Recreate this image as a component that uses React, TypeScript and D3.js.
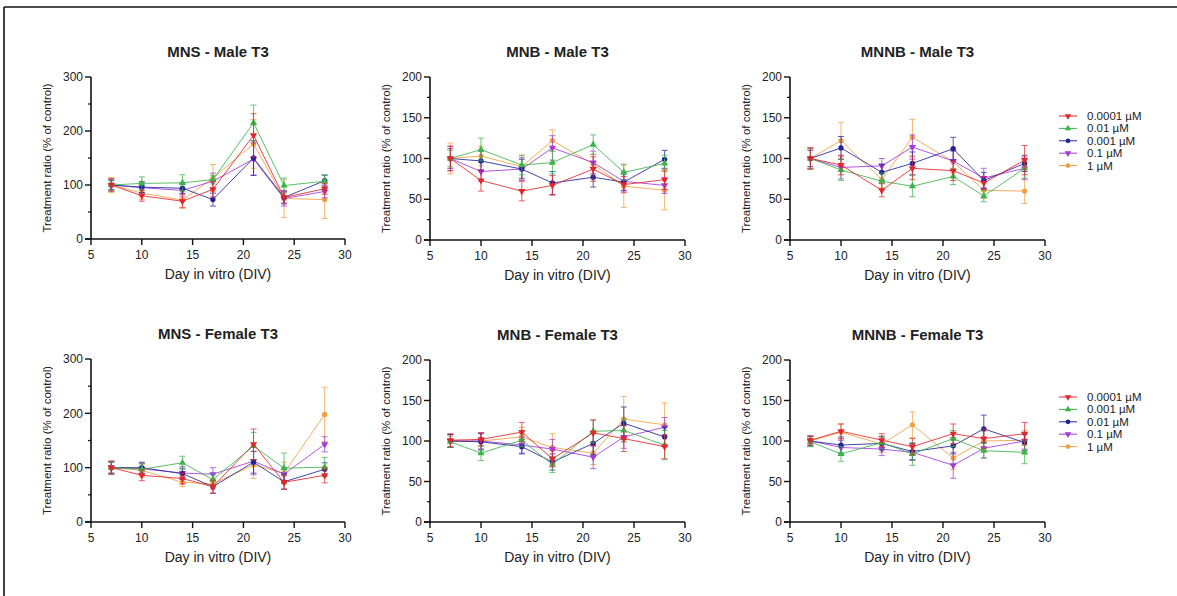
import React from "react";
import * as d3 from "d3";

const days = [7, 10, 14, 17, 21, 24, 28];
const xTicks = [5, 10, 15, 20, 25, 30];

const maleLabels = ["0.0001 µM", "0.01 µM", "0.001 µM", "0.1 µM", "1 µM"];
const femaleLabels = ["0.0001 µM", "0.001 µM", "0.01 µM", "0.1 µM", "1 µM"];

// red, green, blue, purple, orange
const colors = ["#e3262b", "#3bb54a", "#24249a", "#a23ad8", "#f0a040"];
const shapes = ["down", "up", "circle", "down", "circle"];

// means per series (rows) by day (cols)
const mnsMaleMean = [
  [100, 80, 70, 92, 192, 77, 93],
  [100, 103, 104, 110, 215, 99, 107],
  [100, 96, 94, 73, 150, 77, 108],
  [100, 95, 90, 107, 148, 75, 88],
  [100, 85, 72, 113, 176, 75, 73]
];
const mnsMaleErr = [
  [12, 10, 12, 14, 40, 10, 10],
  [10, 12, 15, 8, 33, 14, 12],
  [8, 10, 10, 12, 32, 12, 10],
  [10, 10, 12, 15, 30, 14, 12],
  [14, 12, 15, 25, 45, 35, 35]
];

const mnbMaleMean = [
  [100, 73, 60, 67, 87, 68, 74],
  [100, 111, 92, 95, 117, 83, 94],
  [100, 97, 87, 70, 77, 71, 99],
  [100, 84, 87, 113, 95, 72, 67],
  [100, 103, 90, 122, 93, 66, 61]
];
const mnbMaleErr = [
  [15, 13, 12, 12, 15, 10, 12],
  [10, 14, 12, 14, 12, 10, 10],
  [12, 12, 12, 14, 12, 10, 11],
  [15, 12, 14, 15, 14, 12, 10],
  [19, 12, 14, 13, 12, 26, 24]
];

const mnnbMaleMean = [
  [100, 92, 61, 88, 85, 70, 98],
  [100, 86, 72, 66, 78, 54, 88],
  [100, 113, 83, 94, 112, 73, 94],
  [100, 89, 91, 114, 97, 76, 88],
  [100, 122, 74, 126, 96, 61, 60]
];
const mnnbMaleErr = [
  [13, 12, 8, 14, 12, 8, 18],
  [13, 13, 10, 13, 10, 7, 12],
  [10, 14, 10, 14, 14, 10, 10],
  [12, 14, 9, 15, 12, 12, 14],
  [13, 22, 10, 22, 14, 10, 15]
];

const mnsFemaleMean = [
  [100, 86, 80, 65, 143, 73, 86],
  [100, 97, 109, 78, 140, 99, 101],
  [100, 100, 89, 65, 110, 74, 97],
  [100, 98, 90, 88, 112, 88, 143],
  [100, 95, 73, 70, 105, 90, 198]
];
const mnsFemaleErr = [
  [12, 10, 10, 12, 28, 12, 14],
  [10, 10, 12, 10, 25, 28, 18],
  [10, 10, 10, 12, 20, 14, 12],
  [12, 10, 12, 12, 25, 12, 14],
  [12, 12, 8, 10, 25, 20, 50]
];

const mnbFemaleMean = [
  [101, 102, 111, 78, 110, 103, 93],
  [99, 85, 101, 71, 112, 113, 95],
  [100, 99, 93, 74, 97, 122, 105],
  [100, 100, 95, 90, 80, 105, 117],
  [100, 100, 105, 92, 85, 127, 120]
];
const mnbFemaleErr = [
  [8, 8, 12, 10, 16, 16, 15],
  [7, 9, 8, 10, 14, 14, 18],
  [8, 10, 9, 10, 14, 20, 12],
  [8, 10, 10, 12, 14, 14, 12],
  [8, 10, 12, 17, 14, 28, 27]
];

const mnnbFemaleMean = [
  [101, 112, 101, 93, 109, 103, 109],
  [99, 84, 98, 84, 103, 88, 86],
  [100, 95, 97, 87, 94, 115, 98],
  [100, 92, 90, 86, 70, 91, 100],
  [100, 111, 96, 120, 79, 100, 101]
];
const mnnbFemaleErr = [
  [5, 9, 8, 10, 12, 12, 14],
  [6, 9, 8, 14, 10, 9, 14],
  [6, 10, 8, 10, 10, 17, 10],
  [6, 9, 8, 10, 16, 12, 10],
  [6, 10, 10, 16, 14, 12, 12]
];

const font = "'Liberation Sans', Arial, sans-serif";

const symbolPath = (shape, size) => {
  if (shape === "circle") return d3.symbol(d3.symbolCircle, size)();
  return d3.symbol(d3.symbolTriangle, size)();
};

const Marker = ({ shape, color, x, y, size = 22 }) => (
  <path
    d={symbolPath(shape, size)}
    fill={color}
    transform={`translate(${x},${y})${shape === "down" ? " rotate(180)" : ""}`}
  />
);

const Panel = ({ title, means, errs, x0, x1, y0, y1, yMax, yMajor, yMinor }) => {
  const x = d3.scaleLinear().domain([5, 30]).range([x0, x1]);
  const y = d3.scaleLinear().domain([0, yMax]).range([y1, y0]);
  const line = d3
    .line()
    .x((d, i) => x(days[i]))
    .y(d => y(d));
  const majors = d3.range(0, yMax + 1, yMajor);
  const minors = d3.range(yMinor, yMax, yMajor);
  const order = [4, 3, 2, 1, 0];
  const cx = (x0 + x1) / 2;
  const cy = (y0 + y1) / 2;

  return (
    <g>
      <text x={cx} y={y0 - 20} textAnchor="middle" fontSize={15} fontWeight="bold">
        {title}
      </text>

      {order.map(s => (
        <g key={"s" + s}>
          <path d={line(means[s])} fill="none" stroke={colors[s]} strokeWidth={1} opacity={0.85} />
          {means[s].map((m, i) => {
            const px = x(days[i]);
            const top = y(m + errs[s][i]);
            const bot = y(Math.max(0, m - errs[s][i]));
            return (
              <g key={i} stroke={colors[s]} strokeWidth={1} opacity={0.75}>
                <line x1={px} x2={px} y1={top} y2={bot} />
                <line x1={px - 3} x2={px + 3} y1={top} y2={top} />
                <line x1={px - 3} x2={px + 3} y1={bot} y2={bot} />
              </g>
            );
          })}
          {means[s].map((m, i) => (
            <Marker key={"m" + i} shape={shapes[s]} color={colors[s]} x={x(days[i])} y={y(m)} />
          ))}
        </g>
      ))}

      {/* axes */}
      <line x1={x0} x2={x0} y1={y0} y2={y1} stroke="#111" strokeWidth={1.6} />
      <line x1={x0 - 6} x2={x1} y1={y1} y2={y1} stroke="#111" strokeWidth={1.6} />
      {majors.map(v => (
        <g key={"yt" + v}>
          <line x1={x0 - 6} x2={x0} y1={y(v)} y2={y(v)} stroke="#111" strokeWidth={1.4} />
          <text x={x0 - 8} y={y(v)} dy="0.35em" textAnchor="end" fontSize={12}>
            {v}
          </text>
        </g>
      ))}
      {minors.map(v => (
        <line key={"ym" + v} x1={x0 - 3} x2={x0} y1={y(v)} y2={y(v)} stroke="#111" strokeWidth={1.2} />
      ))}
      {xTicks.map(v => (
        <g key={"xt" + v}>
          <line x1={x(v)} x2={x(v)} y1={y1} y2={y1 + 6} stroke="#111" strokeWidth={1.4} />
          <text x={x(v)} y={y1 + 20} textAnchor="middle" fontSize={12}>
            {v}
          </text>
        </g>
      ))}
      <text x={cx} y={y1 + 40} textAnchor="middle" fontSize={14}>
        Day in vitro (DIV)
      </text>
      <text
        transform={`translate(${x0 - 44},${cy}) rotate(-90)`}
        textAnchor="middle"
        dy="0.35em"
        fontSize={11.5}
      >
        Treatment ratio (% of control)
      </text>
    </g>
  );
};

const Legend = ({ labels, x, y }) => (
  <g>
    {labels.map((l, i) => (
      <g key={l} transform={`translate(${x},${y + i * 12.4})`}>
        <line x1={0} x2={18} y1={0} y2={0} stroke={colors[i]} strokeWidth={1} />
        <Marker shape={shapes[i]} color={colors[i]} x={9} y={0} size={18} />
        <text x={28} y={0} dy="0.35em" fontSize={11.5}>
          {l}
        </text>
      </g>
    ))}
  </g>
);

const cols = [
  [91, 345],
  [430, 685],
  [790, 1045]
];

export default function App() {
  return (
    <svg
      width={1177}
      height={596}
      style={{ position: "absolute", left: 0, top: 0, background: "#fff" }}
      fontFamily={font}
      fill="#222"
    >
      <rect x={0} y={0} width={1177} height={596} fill="#fff" />
      <line x1={4} x2={4} y1={7} y2={596} stroke="#111" strokeWidth={1.6} />
      <line x1={4} x2={1177} y1={7} y2={7} stroke="#111" strokeWidth={1.6} />

      <Panel title="MNS - Male T3" means={mnsMaleMean} errs={mnsMaleErr}
        x0={cols[0][0]} x1={cols[0][1]} y0={77} y1={239} yMax={300} yMajor={100} yMinor={50} />
      <Panel title="MNB - Male T3" means={mnbMaleMean} errs={mnbMaleErr}
        x0={cols[1][0]} x1={cols[1][1]} y0={77} y1={240} yMax={200} yMajor={50} yMinor={25} />
      <Panel title="MNNB - Male T3" means={mnnbMaleMean} errs={mnnbMaleErr}
        x0={cols[2][0]} x1={cols[2][1]} y0={77} y1={240} yMax={200} yMajor={50} yMinor={25} />

      <Panel title="MNS - Female T3" means={mnsFemaleMean} errs={mnsFemaleErr}
        x0={cols[0][0]} x1={cols[0][1]} y0={359} y1={522} yMax={300} yMajor={100} yMinor={50} />
      <Panel title="MNB - Female T3" means={mnbFemaleMean} errs={mnbFemaleErr}
        x0={cols[1][0]} x1={cols[1][1]} y0={360} y1={522} yMax={200} yMajor={50} yMinor={25} />
      <Panel title="MNNB - Female T3" means={mnnbFemaleMean} errs={mnnbFemaleErr}
        x0={cols[2][0]} x1={cols[2][1]} y0={360} y1={522} yMax={200} yMajor={50} yMinor={25} />

      <Legend labels={maleLabels} x={1059} y={116} />
      <Legend labels={femaleLabels} x={1059} y={397} />
    </svg>
  );
}
